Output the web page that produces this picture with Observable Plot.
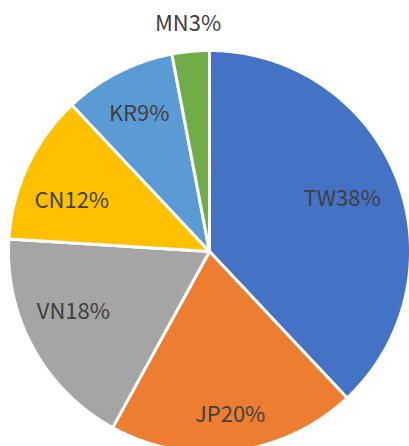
<!DOCTYPE html>
<html>
<head>
<meta charset="utf-8">
<script src="https://cdn.jsdelivr.net/npm/d3@7"></script>
<script src="https://cdn.jsdelivr.net/npm/@observablehq/plot@0.6"></script>
<style>
  html, body { margin: 0; padding: 0; background: #fff; }
</style>
</head>
<body>
<div id="chart"></div>
<script>
const categories = ["TW", "JP", "VN", "CN", "KR", "MN"];
const values = [38, 20, 18, 12, 9, 3];
const colors = ["#4472C4", "#ED7D31", "#A5A5A5", "#FFC000", "#5B9BD5", "#70AD47"];

// label placement (fraction of radius, angular shift in degrees) — layout only
const labelRadius = [0.71, 0.82, 0.74, 0.73, 0.77, 1.135];
const labelShift = [0, 0, 5, -5, 0, 0];

const total = d3.sum(values);
const slices = [];
const labels = [];
let cum = 0;
categories.forEach((c, i) => {
  const a0 = cum / total * 2 * Math.PI;
  cum += values[i];
  const a1 = cum / total * 2 * Math.PI;
  const n = Math.max(2, Math.ceil((a1 - a0) / 0.01));
  slices.push({cat: c, x: 0, y: 0});
  for (let k = 0; k <= n; k++) {
    const a = a0 + (a1 - a0) * k / n;
    slices.push({cat: c, x: Math.sin(a), y: Math.cos(a)});
  }
  slices.push({cat: c, x: 0, y: 0});
  const am = (a0 + a1) / 2 + labelShift[i] * Math.PI / 180;
  const r = labelRadius[i];
  labels.push({cat: c, text: c + values[i] + "%", x: r * Math.sin(am), y: r * Math.cos(am)});
});

const W = 409, H = 446;
const cx = 209, cy = 251, R = 201;

const chart = Plot.plot({
  width: W,
  height: H,
  margin: 0,
  x: {domain: [-1, 1], range: [cx - R, cx + R], axis: null},
  y: {domain: [-1, 1], range: [cy + R, cy - R], axis: null},
  color: {domain: categories, range: colors},
  style: {fontFamily: "'Noto Sans CJK KR', 'Noto Sans', sans-serif", background: "#fff"},
  marks: [
    Plot.line(slices, {x: "x", y: "y", z: "cat", fill: "cat", stroke: "#fff", strokeWidth: 3, strokeLinejoin: "round", curve: "linear"}),
    Plot.text(labels, {x: "x", y: "y", text: "text", fill: "#404040", fontSize: 22})
  ]
});
document.getElementById("chart").appendChild(chart);
</script>
</body>
</html>
